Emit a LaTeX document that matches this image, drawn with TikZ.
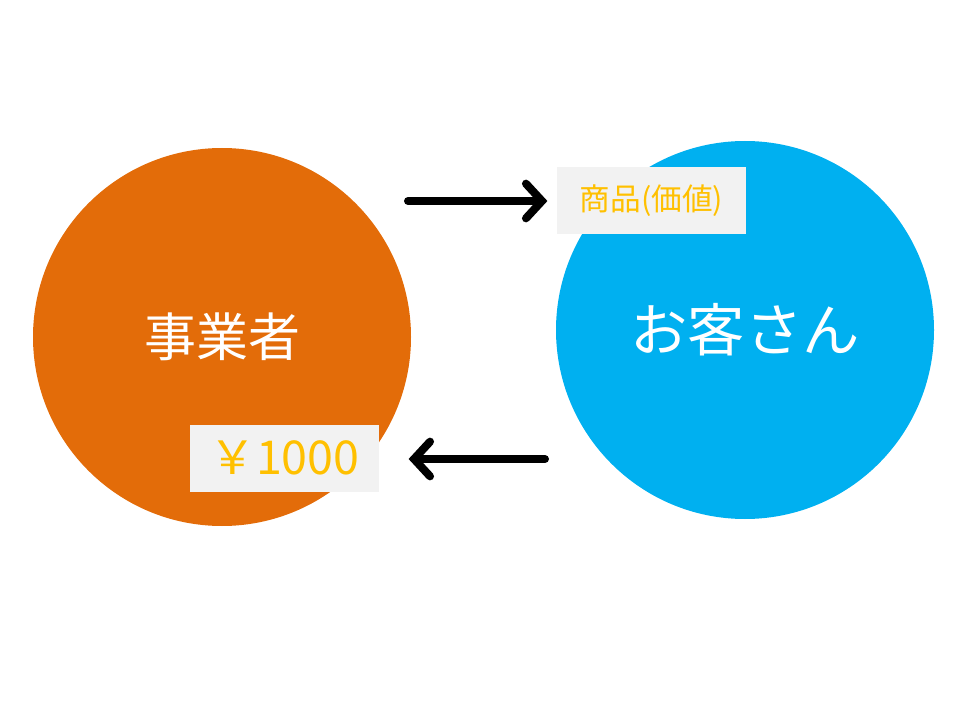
\documentclass[tikz,border=0pt]{standalone}
\usepackage{fontspec}
\setmainfont{Noto Sans CJK JP}
\usetikzlibrary{positioning,arrows.meta}
\definecolor{seller}{HTML}{E36C09}
\definecolor{buyer}{HTML}{00B0F0}
\definecolor{tagfill}{HTML}{F2F2F2}
\definecolor{tagtext}{HTML}{FFC000}

\begin{document}
\begin{tikzpicture}[
    x=0.75pt, y=-0.75pt,
    party/.style={circle, minimum size=283.5pt, inner sep=0pt, text=white},
    tag/.style  ={fill=tagfill, text=tagtext, minimum width=141.75pt,
                  minimum height=50.25pt, inner sep=0pt},
    arr/.style  ={-{Straight Barb[length=12pt, width=26pt, line cap=round]},
                  line width=6pt, line cap=round}
  ]
  \useasboundingbox (0,0) rectangle (960,720);
  \node[party, fill=seller] (maker) at (222,337)
    {\fontsize{39pt}{46pt}\selectfont 事業者};
  \node[party, fill=buyer]  (guest) at (745,330)
    {\fontsize{43pt}{50pt}\selectfont お客さん};
  \node[tag] (goods) at (651.5,200.5)
    {\fontsize{23pt}{27pt}\selectfont 商品(価値)};
  \node[tag] (money) at (284.5,458)
    {\fontsize{35pt}{40pt}\selectfont ￥1000};
  \coordinate (gostart) at (408,201);
  \coordinate (mostart) at (545,459);
  \draw[arr] (gostart) -- ([xshift=-7pt]goods.west |- gostart);
  \draw[arr] (mostart) -- ([xshift=22pt]money.east |- mostart);
\end{tikzpicture}
\end{document}
